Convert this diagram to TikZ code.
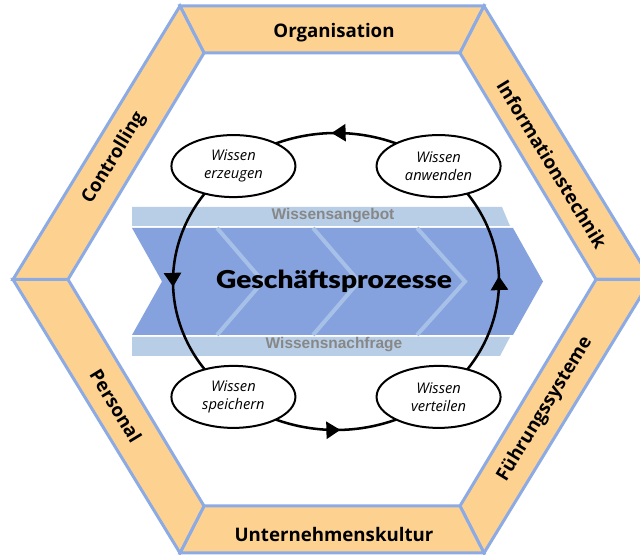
\documentclass[tikz,border=0pt]{standalone}
\usepackage{fontspec}
\setmainfont{Open Sans}
\newfontfamily\arialfont{Liberation Sans}
\newfontface\heavyfont{Lato Black}
\usetikzlibrary{shapes.geometric,decorations.markings,arrows.meta}
\definecolor{bandorange}{RGB}{253,210,145}
\definecolor{bandedge}{RGB}{140,170,228}
\definecolor{chevblue}{RGB}{133,162,223}
\definecolor{barblue}{RGB}{184,206,230}
\definecolor{stripeblue}{RGB}{167,192,232}
\definecolor{bargray}{RGB}{135,135,135}
\tikzset{
  band/.style={fill=bandorange, draw=bandedge, line width=2.25pt, line join=miter},
  bandlabel/.style={font=\fontsize{14}{16}\selectfont\bfseries, inner sep=0pt},
  barlabel/.style={font=\arialfont\fontsize{11.6}{13}\selectfont\bfseries, text=bargray, inner sep=0pt},
  stripe/.style={draw=stripeblue, line width=3pt},
  wnode/.style={ellipse, draw, line width=1.5pt, fill=white, minimum width=93pt,
    minimum height=46.5pt, inner sep=0pt, align=center,
    font=\itshape\fontsize{11}{13.5}\selectfont},
  cyc/.style={line width=1.9pt, postaction={decorate},
    decoration={markings, mark=at position 0.52 with {\arrow{Triangle[width=12.75pt,length=10.5pt]}}}}
}
\begin{document}
\begin{tikzpicture}[x=0.75pt,y=0.75pt]
\useasboundingbox (0,0) rectangle (640,555);
\clip (0,0) rectangle (640,555);
\fill[white] (0,0) rectangle (640,555);
% hexagon vertices
\coordinate (o1) at (180,549);
\coordinate (o2) at (484,549);
\coordinate (o3) at (651,275.5);
\coordinate (o4) at (484,2);
\coordinate (o5) at (180,2);
\coordinate (o6) at (13,275.5);
\coordinate (i1) at (204,502);
\coordinate (i2) at (460,502);
\coordinate (i3) at (596,275.5);
\coordinate (i4) at (460,49);
\coordinate (i5) at (204,49);
\coordinate (i6) at (68,275.5);
% bands
\filldraw[band] (o1)--(o2)--(i2)--(i1)--cycle;
\filldraw[band] (o2)--(o3)--(i3)--(i2)--cycle;
\filldraw[band] (o3)--(o4)--(i4)--(i3)--cycle;
\filldraw[band] (o4)--(o5)--(i5)--(i4)--cycle;
\filldraw[band] (o5)--(o6)--(i6)--(i5)--cycle;
\filldraw[band] (o6)--(o1)--(i1)--(i6)--cycle;
% band labels
\node[bandlabel] (org) at (334,522) {Organisation};
\node[bandlabel] (uk) at (334,20) {Unternehmenskultur};
\node[bandlabel, rotate=58.6] (ctrl) at (114,397) {Controlling};
\node[bandlabel, rotate=-58.6] (it) at (552,391) {Informationstechnik};
\node[bandlabel, rotate=-58.6] (pers) at (116,149) {Personal};
\node[bandlabel, rotate=58.6] (fs) at (545,146) {Führungssysteme};
% bars and chevron
\fill[barblue] (132,348) -- (502,348) -- (510,329) -- (132,329) -- cycle;
\fill[barblue] (132,218) -- (510,218) -- (500,199) -- (132,199) -- cycle;
\fill[chevblue] (132,327) -- (513,327) -- (543,273.5) -- (513,220) -- (132,220) -- (162,273.5) -- cycle;
\draw[stripe] (217,327) -- (263,273.5) -- (217,220);
\draw[stripe] (313,327) -- (359,273.5) -- (313,220);
\draw[stripe] (417,327) -- (465,273.5) -- (417,220);
\node[barlabel] (ang) at (333,339) {Wissensangebot};
\node[barlabel] (nach) at (334,210) {Wissensnachfrage};
\node[font=\heavyfont\fontsize{18.5}{20}\selectfont, inner sep=0pt] (gp) at (334,274) {\scalebox{1.14}[1]{Geschäftsprozesse}};
% knowledge cycle
\coordinate (cc) at (336,273.5);
\path (cc) ++(51:163 and 148.5) coordinate (pA);
\path (cc) ++(129:163 and 148.5) coordinate (pE);
\path (cc) ++(231:163 and 148.5) coordinate (pS);
\path (cc) ++(309:163 and 148.5) coordinate (pV);
\draw[cyc] (pA) arc[start angle=51, end angle=129, x radius=163, y radius=148.5];
\draw[cyc] (pE) arc[start angle=129, end angle=231, x radius=163, y radius=148.5];
\draw[cyc] (pS) arc[start angle=231, end angle=309, x radius=163, y radius=148.5];
\draw[cyc] (pV) arc[start angle=309, end angle=411, x radius=163, y radius=148.5];
\node[wnode] (anw) at (pA) {Wissen\\anwenden};
\node[wnode] (erz) at (pE) {Wissen\\erzeugen};
\node[wnode] (spe) at (pS) {Wissen\\speichern};
\node[wnode] (ver) at (pV) {Wissen\\verteilen};
\end{tikzpicture}
\end{document}
